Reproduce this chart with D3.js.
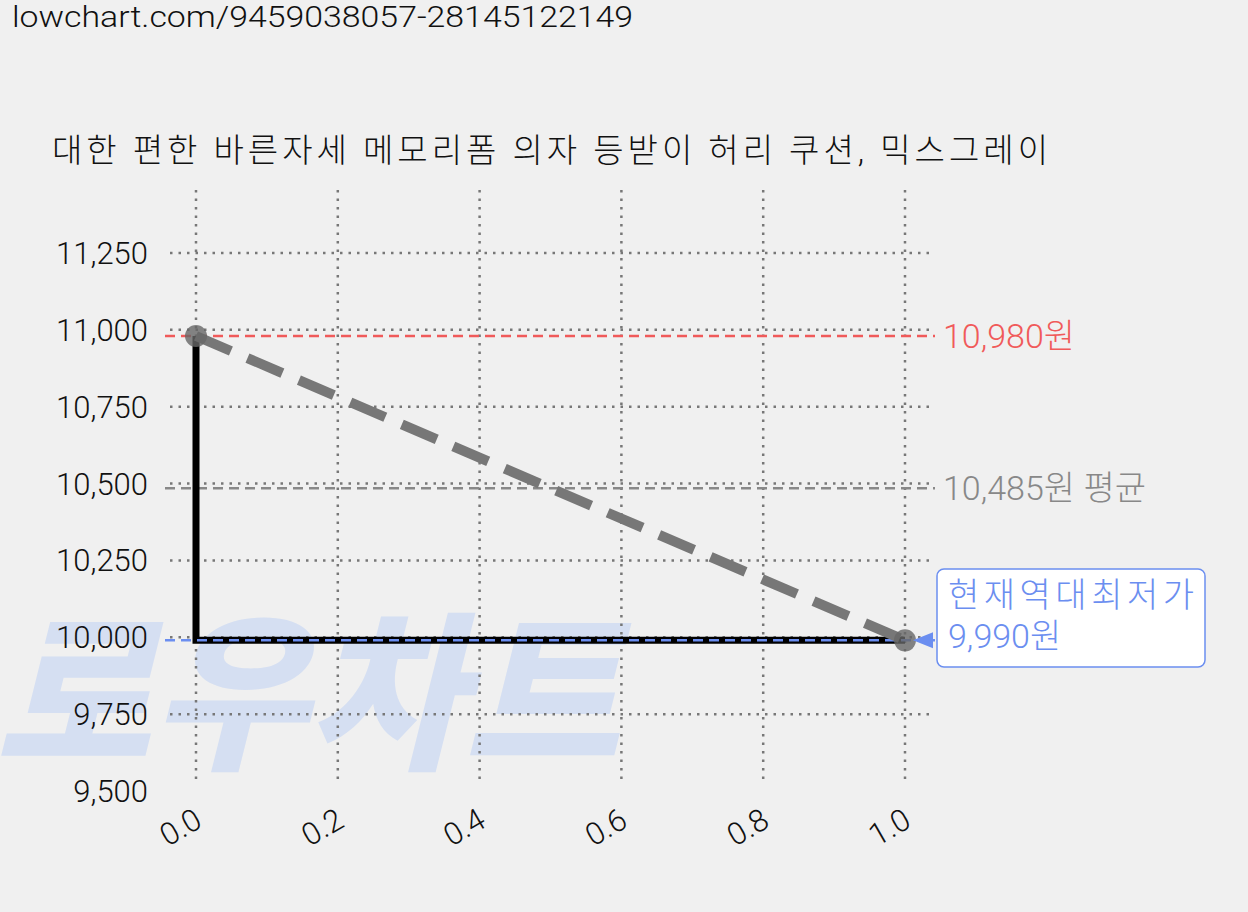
<!DOCTYPE html>
<html><head><meta charset="utf-8">
<script src="https://cdn.jsdelivr.net/npm/d3@7"></script>
<style>body{margin:0;background:#f0f0f0;font-family:Roboto,"Noto Sans CJK KR",sans-serif}</style>
</head><body><svg id="c" width="1248" height="912"></svg>
<script>
// DATA
const title = "대한 편한 바른자세 메모리폼 의자 등받이 허리 쿠션, 믹스그레이";
const url = "lowchart.com/9459038057-28145122149";
const stepX = [0, 0, 1];
const stepY = [10980, 9990, 9990];
const trendX = [0, 1];
const trendY = [10980, 9990];
const maxPrice = 10980, avgPrice = 10485, minPrice = 9990;
const yTicks = [9500, 9750, 10000, 10250, 10500, 10750, 11000, 11250];
const xTicks = [0, 0.2, 0.4, 0.6, 0.8, 1.0];

const svg = d3.select("#c");
const x = d3.scaleLinear([0, 1], [196, 905]);
const y = d3.scaleLinear([9500, 11250], [791, 253]);
const fmt = d3.format(",");

svg.append("text").attr("x", 12).attr("y", 27).attr("font-size", 30).attr("font-weight", 300)
  .attr("textLength", 621).attr("lengthAdjust", "spacingAndGlyphs").attr("fill", "#111").text(url);
svg.append("text").attr("x", 52).attr("y", 162).attr("font-size", 33).attr("font-weight", 300)
  .attr("textLength", 996).attr("fill", "#111").text(title);

// watermark
svg.append("text").attr("x", -5).attr("y", 756).attr("font-size", 170).attr("font-weight", 900)
  .attr("font-style", "italic").attr("fill", "#d5dff2").attr("textLength", 625)
  .attr("lengthAdjust", "spacingAndGlyphs").attr("font-family", "Noto Sans CJK KR").text("로우차트");

// GRID
const grid = svg.append("g").attr("stroke", "#777").attr("stroke-width", 2.5).attr("stroke-dasharray", "2.5,6");
grid.selectAll(".v").data(xTicks).join("line").attr("x1", d => x(d)).attr("x2", d => x(d)).attr("y1", 190).attr("y2", 785);
grid.selectAll(".h").data(yTicks.slice(1)).join("line").attr("x1", 170).attr("x2", 935).attr("y1", d => y(d)).attr("y2", d => y(d));

// AXIS LABELS
svg.selectAll(".yl").data(yTicks).join("text").attr("x", 148).attr("y", d => y(d) + 11)
  .attr("text-anchor", "end").attr("font-size", 31).attr("font-weight", 300).attr("fill", "#111").text(fmt);
svg.selectAll(".xl").data(xTicks).join("text")
  .attr("transform", d => `translate(${x(d) + 8},${826}) rotate(-30)`)
  .attr("text-anchor", "end").attr("font-size", 31).attr("font-weight", 300).attr("fill", "#111").text(d => d.toFixed(1));

// REFERENCE LINES
function hline(v, color, w) {
  svg.append("line").attr("x1", 165).attr("x2", 935).attr("y1", y(v)).attr("y2", y(v))
    .attr("stroke", color).attr("stroke-width", w).attr("stroke-dasharray", "10,6");
}
hline(maxPrice, "#f05a5a", 2.5);
hline(avgPrice, "#888", 2.5);

// PRICE LINES
const line = d3.line().x(d => x(d[0])).y(d => y(d[1]));
svg.append("path").datum(d3.zip(stepX, stepY)).attr("d", line).attr("fill", "none")
  .attr("stroke", "#000").attr("stroke-width", 7);
hline(minPrice, "#6b8ef0", 2.5);
svg.append("path").datum(d3.zip(trendX, trendY)).attr("d", line).attr("fill", "none")
  .attr("stroke", "#777").attr("stroke-width", 10).attr("stroke-dasharray", "38,18");
svg.selectAll(".pt").data(d3.zip(trendX, trendY)).join("circle")
  .attr("cx", d => x(d[0])).attr("cy", d => y(d[1])).attr("r", 11).attr("fill", "#666").attr("opacity", 0.8);

// LABELS
svg.append("text").attr("x", 943).attr("y", y(maxPrice) + 12).attr("font-size", 34).attr("font-weight", 300).attr("fill", "#f05a5a").text(fmt(maxPrice) + "원");
svg.append("text").attr("x", 943).attr("y", y(avgPrice) + 12).attr("font-size", 34).attr("font-weight", 300).attr("fill", "#888").text(fmt(avgPrice) + "원 평균");
svg.append("rect").attr("x", 937).attr("y", 569).attr("width", 268).attr("height", 98).attr("rx", 7)
  .attr("fill", "#fff").attr("stroke", "#6b8ef0").attr("stroke-width", 1.5);
svg.append("path").attr("d", `M913,${y(minPrice)} L933,${y(minPrice) - 8} L933,${y(minPrice) + 8}Z`).attr("fill", "#6b8ef0");
svg.append("text").attr("x", 948).attr("y", 607).attr("font-size", 34).attr("font-weight", 300).attr("textLength", 246).attr("fill", "#6b8ef0").text("현재역대최저가");
svg.append("text").attr("x", 948).attr("y", 648).attr("font-size", 34).attr("font-weight", 300).attr("fill", "#6b8ef0").text(fmt(minPrice) + "원");
</script></body></html>
